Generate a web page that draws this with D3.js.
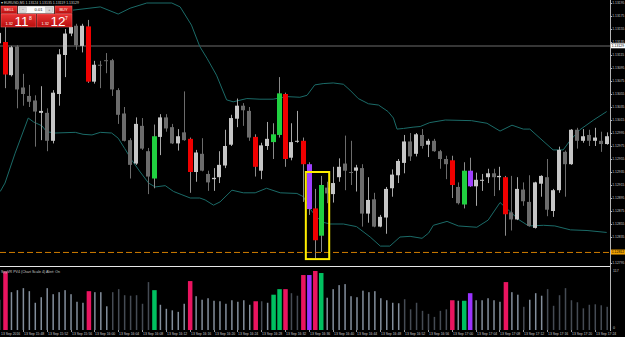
<!DOCTYPE html>
<html><head><meta charset="utf-8">
<script src="https://cdn.jsdelivr.net/npm/d3@7/dist/d3.min.js"></script>
<style>html,body{margin:0;padding:0;background:#000;overflow:hidden}svg{display:block}text{font-family:"Liberation Sans",Arial,sans-serif}</style>
</head><body><svg id="chart" width="625" height="337"></svg>
<script>
// ---- data (EURUSD M1, 13 Sep 2016) ----
const open = [1.13133,1.13135,1.13084,1.13128,1.13065,1.13052,1.13045,1.13026,1.13026,1.12983,
1.13055,1.13115,1.13148,1.13160,1.13129,1.13159,1.13074,1.13100,1.13107,1.13107,
1.13061,1.13025,1.12984,1.12948,1.13006,1.12967,1.12925,1.12989,1.13019,1.13004,
1.12979,1.12996,1.12986,1.12935,1.12963,1.12932,1.12924,1.12927,1.12945,1.12977,
1.13017,1.13037,1.13029,1.12989,1.12937,1.12975,1.12981,1.12992,1.13055,1.12957,
1.12982,1.12983,1.12947,1.12879,1.12837,1.12911,1.12901,1.12927,1.12948,1.12935,
1.12937,1.12941,1.12871,1.12893,1.12851,1.12865,1.12910,1.12930,1.12949,1.12982,
1.12963,1.12992,1.12977,1.12983,1.12967,1.12955,1.12953,1.12912,1.12885,1.12937,
1.12913,1.12922,1.12927,1.12933,1.12927,1.12927,1.12873,1.12862,1.12908,1.12889,
1.12849,1.12917,1.12927,1.12875,1.12907,1.12966,1.12947,1.13000,1.12983,1.12992,
1.12983,1.12983,1.12978];
const high = [1.13158,1.13158,1.13129,1.13130,1.13086,1.13069,1.13053,1.13067,1.13033,1.13061,
1.13124,1.13155,1.13161,1.13163,1.13163,1.13169,1.13106,1.13106,1.13118,1.13109,
1.13064,1.13035,1.12987,1.13019,1.13018,1.12972,1.13008,1.13024,1.13024,1.13009,
1.13001,1.13059,1.12988,1.12969,1.12987,1.12937,1.12941,1.12967,1.13000,1.13023,
1.13048,1.13041,1.13035,1.12993,1.12980,1.13012,1.13010,1.13081,1.13057,1.13010,
1.13029,1.12988,1.12950,1.12909,1.12929,1.12920,1.12943,1.12956,1.12991,1.12983,
1.12946,1.12947,1.12927,1.12903,1.12869,1.12912,1.12939,1.12955,1.12992,1.12995,
1.12995,1.13001,1.12986,1.12986,1.12969,1.12960,1.12960,1.12919,1.12950,1.12957,
1.12934,1.12932,1.12940,1.12940,1.12943,1.12929,1.12929,1.12927,1.12919,1.12930,
1.12920,1.12930,1.12955,1.12909,1.12974,1.12968,1.13001,1.13003,1.13001,1.13000,
1.13003,1.12997,1.12996];
const low = [1.13126,1.13064,1.13082,1.13033,1.13037,1.13035,1.12974,1.12984,1.12967,1.12979,
1.13037,1.13081,1.13144,1.13123,1.13119,1.13072,1.13071,1.13064,1.13087,1.13052,
1.13009,1.12982,1.12925,1.12946,1.12969,1.12901,1.12910,1.12961,1.12997,1.12978,
1.12968,1.12983,1.12903,1.12920,1.12936,1.12906,1.12906,1.12918,1.12941,1.12975,
1.13004,1.13006,1.12983,1.12928,1.12924,1.12969,1.12955,1.12988,1.12943,1.12953,
1.12980,1.12889,1.12869,1.12802,1.12812,1.12887,1.12888,1.12920,1.12907,1.12915,
1.12905,1.12851,1.12857,1.12850,1.12850,1.12840,1.12897,1.12918,1.12933,1.12952,
1.12959,1.12971,1.12958,1.12966,1.12940,1.12924,1.12895,1.12885,1.12879,1.12912,
1.12883,1.12906,1.12918,1.12898,1.12907,1.12837,1.12845,1.12861,1.12883,1.12851,
1.12848,1.12897,1.12867,1.12866,1.12903,1.12897,1.12946,1.12971,1.12980,1.12975,
1.12975,1.12966,1.12977];
const close = [1.13149,1.13085,1.13127,1.13062,1.13055,1.13043,1.13028,1.13029,1.12983,1.13057,
1.13116,1.13148,1.13158,1.13130,1.13160,1.13074,1.13100,1.13099,1.13106,1.13062,
1.13023,1.12983,1.12946,1.13009,1.12971,1.12928,1.12990,1.13019,1.13002,1.12979,
1.12990,1.12984,1.12935,1.12965,1.12937,1.12919,1.12926,1.12946,1.12975,1.13018,
1.13037,1.13030,1.12988,1.12943,1.12976,1.12986,1.12993,1.13056,1.12955,1.12981,
1.12983,1.12947,1.12878,1.12830,1.12915,1.12902,1.12918,1.12943,1.12937,1.12934,
1.12942,1.12871,1.12892,1.12851,1.12866,1.12909,1.12931,1.12952,1.12982,1.12959,
1.12993,1.12975,1.12983,1.12967,1.12955,1.12947,1.12915,1.12887,1.12937,1.12913,
1.12923,1.12923,1.12933,1.12927,1.12929,1.12870,1.12862,1.12909,1.12890,1.12852,
1.12919,1.12929,1.12877,1.12907,1.12969,1.12947,1.13000,1.12983,1.12990,1.12983,
1.12988,1.12978,1.12990];
// signal class from the volume indicator: r = climax, g = churn, p = low-vol churn, . = normal
const signal = ".r........" + ".....r...." + "......g..." + "..r......." + "...r..ggr." +
               ".rprg....." + ".........." + "......r.gp" + ".....r...." + ".........." + "...";
const volume = [60,116,75,79,83,77,54,65,83,71,
75,79,71,56,54,77,75,75,47,75,
81,69,68,69,52,95,79,50,42,39,
36,52,97,67,60,63,58,57,52,59,
56,59,50,57,57,54,70,81,81,73,
68,109,109,117,113,64,81,89,91,67,
65,78,75,77,63,59,54,53,61,41,
54,38,32,26,38,41,59,58,58,73,
59,59,63,59,56,95,75,70,46,60,
73,68,81,48,69,83,59,55,43,50,
51,49,46];
const volShade = "1111111111" + "1111111110" + "0000001111" + "1111111111" + "1111011110" +
                 "0111111111" + "1111111100" + "0000001111" + "1111111101" + "1100000000" + "000";
const upperPos = [12.4,17.0,20.0,22.0,24.8,29.0,30.4,32.3,33.7,34.9,36.5,38.2,39.3,41.6,43.8,46.0,48.3,50.5,51.7,53.0,54.4,56.1,57.8,58.9,60.3,62.0,63.7,65.3,66.2,66.8,67.9,69.5,70.7,72.3,74.9,79.3,81.9,84.1,86.1,88.0,89.1,90.8,93.0,94.7,95.9,97.5,99.8,102.0];
const upperVal = [1.13184,1.13189,1.13178,1.13187,1.13195,1.13195,1.13189,1.13161,1.13128,1.13110,1.13084,1.13046,1.13043,1.13048,1.13047,1.13047,1.13051,1.13050,1.13053,1.13069,1.13071,1.13072,1.13070,1.13061,1.13048,1.13040,1.13038,1.13028,1.13018,1.13001,1.13002,1.13004,1.13005,1.13011,1.13015,1.13014,1.13010,1.12998,1.13007,1.13001,1.13001,1.12987,1.12969,1.12969,1.12984,1.13000,1.13015,1.13028];
const lowerPos = [0.2,1.0,2.7,4.9,5.8,7.2,8.0,9.4,12.8,14.1,15.6,17.0,18.9,20.0,21.1,22.3,23.7,25.1,26.2,27.9,29.3,30.7,32.1,33.7,34.6,36.0,37.1,39.1,41.0,43.0,44.9,47.2,50.0,51.1,51.9,53.0,54.2,55.6,57.8,60.0,62.3,64.0,65.6,67.3,69.0,71.0,72.1,72.9,75.2,77.1,80.2,82.1,84.1,85.2,87.2,88.9,91.4,93.3,95.9,98.7,102.0];
const lowerVal = [1.12905,1.12918,1.12964,1.13018,1.13012,1.13006,1.12997,1.12995,1.12996,1.12993,1.12992,1.12996,1.12995,1.12987,1.12971,1.12953,1.12935,1.12918,1.12912,1.12914,1.12905,1.12900,1.12895,1.12895,1.12892,1.12884,1.12889,1.12907,1.12903,1.12903,1.12910,1.12903,1.12902,1.12897,1.12882,1.12869,1.12858,1.12855,1.12855,1.12851,1.12835,1.12821,1.12821,1.12835,1.12836,1.12833,1.12841,1.12853,1.12859,1.12852,1.12850,1.12861,1.12888,1.12879,1.12862,1.12852,1.12853,1.12852,1.12846,1.12845,1.12842];
const priceTicks = ["1.13195","1.13175","1.13155","1.13135","1.13115","1.13095","1.13075","1.13055","1.13035","1.13015","1.12995","1.12975","1.12955","1.12935","1.12915","1.12895","1.12875","1.12855","1.12835","1.12815","1.12795"];
const hLine = 1.13129;      // grey horizontal level
const orangeLine = 1.12812; // dashed level
const boxFrom = 52, boxTo = 55, boxTop = 1.12935, boxBottom = 1.12801; // highlighted bars (array index)
const timePos = [4,8,12,16,20,24,28,32,36,40,44,48,52,56,60,64,68,72,76,80,84,88,92,96,100];
const timeLabels = ["13 Sep 15:48","13 Sep 15:52","13 Sep 15:56","13 Sep 16:00","13 Sep 16:04","13 Sep 16:08","13 Sep 16:12","13 Sep 16:16","13 Sep 16:20","13 Sep 16:24","13 Sep 16:28","13 Sep 16:32","13 Sep 16:36","13 Sep 16:40","13 Sep 16:44","13 Sep 16:48","13 Sep 16:52","13 Sep 16:56","13 Sep 17:00","13 Sep 17:04","13 Sep 17:08","13 Sep 17:12","13 Sep 17:16","13 Sep 17:20","13 Sep 17:24"];
const volMax = 117;

// ---- drawing ----
const svg = d3.select("#chart");
svg.append("rect").attr("width",625).attr("height",337).attr("fill","#000");
const defs = svg.append("defs");
defs.append("clipPath").attr("id","clipMain").append("rect").attr("x",0).attr("y",0).attr("width",610).attr("height",266);
defs.append("clipPath").attr("id","clipVol").append("rect").attr("x",0).attr("y",267).attr("width",610).attr("height",64);
const rg = defs.append("linearGradient").attr("id","redGrad").attr("x1",0).attr("y1",0).attr("x2",0).attr("y2",1);
rg.append("stop").attr("offset","0%").attr("stop-color","#e83434");
rg.append("stop").attr("offset","100%").attr("stop-color","#b80e0e");

const x = d3.scaleLinear().domain([1,102]).range([5,606.7]);
const y = d3.scaleLinear().domain([1.12795,1.13195]).range([263,3]);
const yv = d3.scaleLinear().domain([0,volMax]).range([330,271]);

const main = svg.append("g").attr("clip-path","url(#clipMain)");
main.append("line").attr("x1",0).attr("x2",610).attr("y1",y(hLine)).attr("y2",y(hLine))
  .attr("stroke","#363636").attr("stroke-width",2);

const line = d3.line().x(d=>x(d[0])).y(d=>y(d[1]));
main.append("path").attr("d",line(upperPos.map((p,i)=>[p,upperVal[i]])))
  .attr("fill","none").attr("stroke","#1b6b68").attr("stroke-width",1);
main.append("path").attr("d",line(lowerPos.map((p,i)=>[p,lowerVal[i]])))
  .attr("fill","none").attr("stroke","#1b6b68").attr("stroke-width",1);

const sigColor = {r:"#f00000", g:"#20d040", p:"#a040ff"};
const idx = d3.range(open.length);
const cg = main.append("g");
idx.forEach(j=>{
  const cx = Math.round(x(j));
  const s = signal[j];
  const up = close[j] >= open[j];
  const bodyCol = s !== "." ? sigColor[s] : (up ? "#c6c6c6" : "#6c6c6c");
  const wickCol = s !== "." ? "#8a8a8a" : (up ? "#a8a8a8" : "#6c6c6c");
  cg.append("rect").attr("x",cx).attr("width",1)
    .attr("y",y(high[j])).attr("height",Math.max(1,y(low[j])-y(high[j]))).attr("fill",wickCol);
  const top = y(Math.max(open[j],close[j])), bot = y(Math.min(open[j],close[j]));
  const w = s !== "." ? 5 : 4;
  cg.append("rect").attr("x",cx-2).attr("width",w)
    .attr("y",top).attr("height",Math.max(1,bot-top)).attr("fill",bodyCol);
});

main.append("line").attr("x1",0).attr("x2",610).attr("y1",y(orangeLine)+0.5).attr("y2",y(orangeLine)+0.5)
  .attr("stroke","#d07d00").attr("stroke-width",1).attr("stroke-dasharray","6,3");

main.append("rect").attr("x",x(boxFrom)-3).attr("y",y(boxTop))
  .attr("width",x(boxTo)-x(boxFrom)+5.5).attr("height",y(boxBottom)-y(boxTop))
  .attr("fill","none").attr("stroke","#ffee00").attr("stroke-width",2);

// price axis
svg.append("line").attr("x1",610.5).attr("x2",610.5).attr("y1",0).attr("y2",331).attr("stroke","#b4b4b4").attr("stroke-width",1);
priceTicks.forEach(t=>{
  const py = y(+t);
  if (Math.abs(py - y(orangeLine)) < 4) return;
  svg.append("line").attr("x1",610).attr("x2",612).attr("y1",Math.round(py)+0.5).attr("y2",Math.round(py)+0.5).attr("stroke","#b4b4b4");
  svg.append("text").attr("x",612.2).attr("y",py+1.3).attr("font-size",3.4).attr("fill","#c8c8c8").text(t);
});
svg.append("rect").attr("x",611).attr("y",y(hLine)-2.6).attr("width",14).attr("height",5).attr("fill","#ffffff");
svg.append("text").attr("x",611.8).attr("y",y(hLine)+1.3).attr("font-size",3.4).attr("fill","#000").text(hLine.toFixed(5));
svg.append("rect").attr("x",611).attr("y",y(orangeLine)-2.4).attr("width",14).attr("height",5).attr("fill","#f0a000");
svg.append("text").attr("x",611.8).attr("y",y(orangeLine)+1.5).attr("font-size",3.4).attr("fill","#000").text(orangeLine.toFixed(5));

svg.append("line").attr("x1",0).attr("x2",610).attr("y1",266.5).attr("y2",266.5).attr("stroke","#e6e6e6").attr("stroke-width",1);

// volume panel
const vg = svg.append("g").attr("clip-path","url(#clipVol)");
const volColor = {r:"#ea1460", g:"#00c060", p:"#9a33ff"};
idx.forEach(j=>{
  const s = signal[j];
  const cx = x(j);
  const w = s !== "." ? 4.5 : 1.5;
  const col = s !== "." ? volColor[s] : (volShade[j]==="1" ? "#838e9c" : "#454b54");
  vg.append("rect").attr("x",cx-w/2+0.5).attr("width",w).attr("y",yv(volume[j])).attr("height",yv(0)-yv(volume[j])).attr("fill",col);
});
svg.append("text").attr("x",1).attr("y",272.5).attr("font-size",3.6).attr("fill","#c8c8c8").text("SpyVR PV4  (Chart Scale 4)  Alert: On");
svg.append("text").attr("x",613).attr("y",272).attr("font-size",3.6).attr("fill","#c8c8c8").text(String(volMax));
svg.append("text").attr("x",613).attr("y",329).attr("font-size",3.6).attr("fill","#c8c8c8").text("0");

// time axis
svg.append("text").attr("x",1).attr("y",334.5).attr("font-size",3.4).attr("fill","#c8c8c8").text("13 Sep 2016");
timePos.forEach((p,i)=>{
  const tx = Math.round(x(p));
  svg.append("line").attr("x1",tx+0.5).attr("x2",tx+0.5).attr("y1",330).attr("y2",332).attr("stroke","#9a9a9a");
  svg.append("text").attr("x",tx+1).attr("y",334.5).attr("font-size",3.4).attr("fill","#c8c8c8").text(timeLabels[i]);
});

// header + one-click trading panel
svg.append("text").attr("x",1).attr("y",3.6).attr("font-size",3.5).attr("fill","#d0d0d0").text("\u25BE EURUSD,M1  1.13124 1.13135 1.13119 1.13129");
const tp = svg.append("g");
function redBox(x0,y0,w,h){ tp.append("rect").attr("x",x0).attr("y",y0).attr("width",w).attr("height",h).attr("fill","url(#redGrad)").attr("stroke","#ff6a6a").attr("stroke-width",0.5); }
redBox(1,6,16,7.5);
tp.append("text").attr("x",9).attr("y",11.3).attr("text-anchor","middle").attr("font-size",4).attr("fill","#fff").text("SELL");
tp.append("rect").attr("x",18).attr("y",6).attr("width",36).attr("height",7.5).attr("fill","#fafafa").attr("stroke","#888").attr("stroke-width",0.4);
tp.append("rect").attr("x",19.2).attr("y",7).attr("width",7).attr("height",5.5).attr("fill","#d8d8d8").attr("stroke","#999").attr("stroke-width",0.3);
tp.append("rect").attr("x",45.8).attr("y",7).attr("width",7).attr("height",5.5).attr("fill","#d8d8d8").attr("stroke","#999").attr("stroke-width",0.3);
tp.append("text").attr("x",22.7).attr("y",11).attr("text-anchor","middle").attr("font-size",3.5).attr("fill","#444").text("\u2212");
tp.append("text").attr("x",49.3).attr("y",11).attr("text-anchor","middle").attr("font-size",3.5).attr("fill","#444").text("+");
tp.append("text").attr("x",38.5).attr("y",11.3).attr("text-anchor","middle").attr("font-size",4).attr("fill","#111").text("0.01");
redBox(55,6,17,7.5);
tp.append("text").attr("x",63.5).attr("y",11.3).attr("text-anchor","middle").attr("font-size",4).attr("fill","#fff").text("BUY");
redBox(1,14,35,13);
redBox(37,14,35,13);
const quotes = [{x0:1, big:"11", sup:"8"},{x0:37, big:"12", sup:"7"}];
quotes.forEach(q=>{
  tp.append("text").attr("x",q.x0+4.5).attr("y",24.5).attr("font-size",3.8).attr("fill","#fff").text("1.32");
  tp.append("text").attr("x",q.x0+13.5).attr("y",26.3).attr("font-size",13.5).attr("fill","#fff").text(q.big);
  tp.append("text").attr("x",q.x0+28).attr("y",19.5).attr("font-size",5).attr("fill","#fff").text(q.sup);
});
</script></body></html>
